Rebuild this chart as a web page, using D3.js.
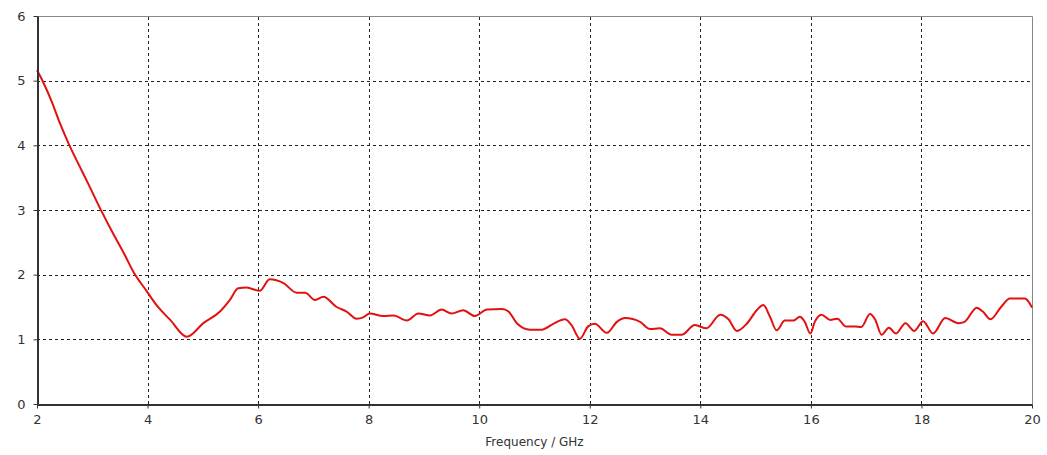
<!DOCTYPE html>
<html>
<head>
<meta charset="utf-8">
<script src="https://cdn.jsdelivr.net/npm/d3@7"></script>
<style>
  body { margin: 0; background: #fff; }
  .tick text { font-family: "DejaVu Sans", Verdana, sans-serif; font-size: 12px; fill: #333; }
  .grid line { stroke: #222; stroke-dasharray: 3,3; stroke-width: 1; }
</style>
</head>
<body>
<script>

var freq = [2.0, 2.11, 2.27, 2.42, 2.57, 2.78, 2.93, 3.11, 3.35, 3.59, 3.74, 3.98, 4.17, 4.41, 4.71,
  5.01, 5.31, 5.49, 5.64, 5.79, 6.03, 6.21, 6.46, 6.70, 6.85, 7.03, 7.18, 7.42, 7.60, 7.78, 7.90,
  8.02, 8.26, 8.45, 8.69, 8.90, 9.11, 9.32, 9.50, 9.71, 9.92, 10.14, 10.41, 10.53, 10.68, 10.92,
  11.13, 11.34, 11.55, 11.67, 11.82, 11.97, 12.09, 12.31, 12.49, 12.64, 12.91, 13.09, 13.27, 13.48,
  13.66, 13.90, 14.11, 14.36, 14.51, 14.66, 14.84, 15.02, 15.14, 15.26, 15.38, 15.53, 15.68, 15.80,
  15.89, 15.99, 16.07, 16.19, 16.35, 16.48, 16.63, 16.80, 16.91, 17.07, 17.16, 17.28, 17.41, 17.54,
  17.71, 17.87, 18.03, 18.21, 18.43, 18.67, 18.78, 19.00, 19.11, 19.25, 19.44, 19.60, 19.87, 19.94, 20.0];
var vswr = [5.16, 4.98, 4.67, 4.33, 4.03, 3.66, 3.40, 3.08, 2.68, 2.30, 2.05, 1.75, 1.52, 1.30, 1.04,
  1.25, 1.43, 1.61, 1.79, 1.80, 1.75, 1.93, 1.87, 1.72, 1.72, 1.61, 1.66, 1.50, 1.43, 1.32, 1.34,
  1.40, 1.36, 1.37, 1.29, 1.40, 1.37, 1.46, 1.40, 1.45, 1.36, 1.46, 1.47, 1.43, 1.25, 1.15,
  1.15, 1.24, 1.31, 1.22, 1.01, 1.20, 1.24, 1.10, 1.27, 1.33, 1.27, 1.16, 1.17, 1.07,
  1.07, 1.22, 1.17, 1.38, 1.31, 1.13, 1.24, 1.45, 1.53, 1.35, 1.14, 1.29, 1.29, 1.35,
  1.27, 1.09, 1.27, 1.38, 1.30, 1.32, 1.20, 1.20, 1.19, 1.39, 1.31, 1.07, 1.18, 1.09,
  1.25, 1.13, 1.28, 1.09, 1.33, 1.25, 1.27, 1.49, 1.43, 1.31, 1.50, 1.63, 1.63, 1.58, 1.49];

var xTicks = [2, 4, 6, 8, 10, 12, 14, 16, 18, 20];
var yTicks = [0, 1, 2, 3, 4, 5, 6];

var width = 1047, height = 455;
var margin = {left: 37, right: 15, top: 16, bottom: 51};

var svg = d3.select("body").append("svg")
    .attr("width", width)
    .attr("height", height);

var x = d3.scaleLinear().domain([2, 20]).range([margin.left, width - margin.right]);
var y = d3.scaleLinear().domain([0, 6]).range([height - margin.bottom, margin.top]);

// dashed grid
svg.append("g").attr("class", "grid")
  .selectAll("line.v").data(xTicks.slice(1, -1)).enter().append("line")
    .attr("x1", function(d) { return Math.round(x(d)) + 0.5; })
    .attr("x2", function(d) { return Math.round(x(d)) + 0.5; })
    .attr("y1", y(0)).attr("y2", y(6));
svg.append("g").attr("class", "grid")
  .selectAll("line.h").data(yTicks.slice(1, -1)).enter().append("line")
    .attr("y1", function(d) { return Math.round(y(d)) + 0.5; })
    .attr("y2", function(d) { return Math.round(y(d)) + 0.5; })
    .attr("x1", x(2)).attr("x2", x(20));

// frame top and right
svg.append("path")
    .attr("d", "M" + x(2) + "," + (y(6) + 0.5) + "H" + (x(20) + 0.5) + "V" + y(0))
    .attr("fill", "none").attr("stroke", "#888").attr("stroke-width", 1);

// curve
var pts = freq.map(function(f, i) { return [f, vswr[i]]; });
var line = d3.line()
    .x(function(d) { return x(d[0]); })
    .y(function(d) { return y(d[1]); })
    .curve(d3.curveMonotoneX);
svg.append("path")
    .datum(pts)
    .attr("d", line)
    .attr("fill", "none")
    .attr("stroke", "#e31010")
    .attr("stroke-width", 2);

// axes
var xAxis = svg.append("g")
    .attr("transform", "translate(0," + (Math.round(y(0)) + 0.5) + ")")
    .call(d3.axisBottom(x).tickValues(xTicks).tickFormat(d3.format("d")).tickSize(4).tickSizeOuter(0).tickPadding(6));
var yAxis = svg.append("g")
    .attr("transform", "translate(" + (Math.round(x(2)) + 0.5) + ",0)")
    .call(d3.axisLeft(y).tickValues(yTicks).tickFormat(d3.format("d")).tickSize(4).tickSizeOuter(0).tickPadding(8));
[xAxis, yAxis].forEach(function(a) {
  a.select(".domain").attr("stroke", "#333").attr("stroke-width", 2);
  a.selectAll(".tick line").attr("stroke", "#333");
});
yAxis.selectAll(".tick text").style("font-size", "13px");
xAxis.selectAll(".tick text").style("font-size", "13px");

svg.append("text")
    .attr("x", (x(2) + x(20)) / 2)
    .attr("y", 446)
    .attr("text-anchor", "middle")
    .style("font-family", "DejaVu Sans, Verdana, sans-serif")
    .style("font-size", "12px")
    .style("fill", "#333")
    .text("Frequency / GHz");

</script>
</body>
</html>
